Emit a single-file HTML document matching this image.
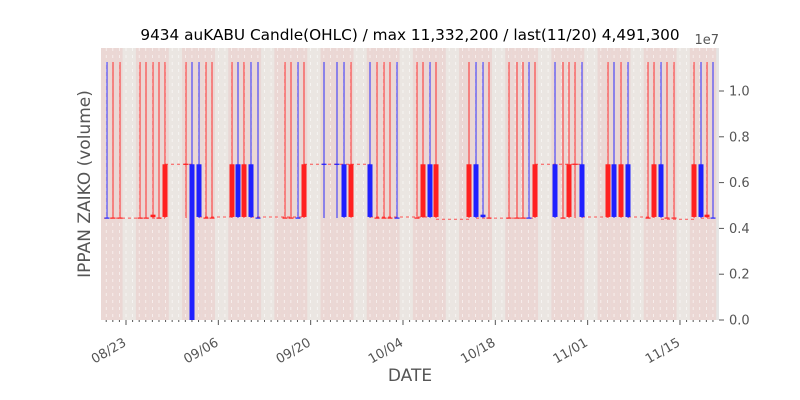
<!DOCTYPE html>
<html><head><meta charset="utf-8"><style>
html,body{margin:0;padding:0;background:#fff;}
svg{display:block;font-family:"DejaVu Sans","Liberation Sans",sans-serif;}
</style></head><body>
<svg id="s" width="800" height="400" xmlns="http://www.w3.org/2000/svg">
<rect x="101" y="48" width="618" height="272" fill="#e5e5e5"/>
<g id="bands"></g><g id="grid"></g><g id="dash"></g><g id="cand"></g><g id="ticks"></g>
<text x="410" y="40" font-size="15.3" text-anchor="middle" fill="#000">9434 auKABU Candle(OHLC) / max 11,332,200 / last(11/20) 4,491,300</text>
<text x="719" y="44" font-size="13" text-anchor="end" fill="#555">1e7</text>
<text x="410" y="381" font-size="17" text-anchor="middle" fill="#555">DATE</text>
<text transform="translate(90,184) rotate(-90)" font-size="17" text-anchor="middle" fill="#555">IPPAN ZAIKO (volume)</text>
</svg>
<script>
var NS="http://www.w3.org/2000/svg";
function el(p,t,a){var e=document.createElementNS(NS,t);for(var k in a)e.setAttribute(k,a[k]);document.getElementById(p).appendChild(e);return e;}
var x0=126,pd=6.595;
function X(d){return x0+d*pd;}
function Y(v){return 320-v*22.9;}
for(var d=-4;d<=89;d++){
  var dow=((d%7)+7)%7;
  var we=(dow==0||dow==1);
  var xa=Math.max(101,X(d)-pd/2), xb=Math.min(719,X(d)+pd/2);
  el("bands","rect",{x:xa,y:48,width:xb-xa,height:272,fill:we?"#ebe6e2":"#ebd7d4"});
  if(X(d)>101&&X(d)<719)el("grid","line",{x1:X(d),x2:X(d),y1:48,y2:320,stroke:"#fff","stroke-width":0.7,"stroke-dasharray":"3,4",opacity:0.8});
}
var C=[[107,"b","t"],[113,"r","t"],[120,"r","t"],[140,"r","t"],[146,"r","t"],[153,"r","s"],[159,"r","t"],[165,"r","b"],
[186,"r","h"],[192,"b","B"],[199,"b","b"],[206,"r","t"],[212,"r","t"],[232,"r","b"],[238,"b","b"],[244,"r","b"],[251,"b","b"],[258,"b","t"],
[285,"r","t"],[291,"r","t"],[298,"b","t"],[304,"r","b"],[324,"b","h"],[337,"b","h"],[344,"b","b"],[351,"r","b"],[370,"b","b"],
[377,"r","t"],[384,"r","t"],[390,"r","t"],[397,"b","t"],[417,"r","t"],[423,"r","b"],[430,"b","b"],[436,"r","b"],
[469,"r","b"],[476,"b","b"],[483,"b","s"],[489,"r","t"],[509,"r","t"],[517,"r","t"],[523,"r","t"],[529,"b","t"],[535,"r","b"],
[555,"b","b"],[563,"r","t"],[569,"r","b"],[575,"r","h"],[582,"b","b"],[608,"r","b"],[614,"b","b"],[621,"r","b"],[628,"b","b"],
[648,"r","t"],[654,"r","b"],[661,"b","b"],[667,"r","t"],[674,"r","t"],[694,"r","b"],[701,"b","b"],[707,"r","s"],[713,"b","t"]];
var segs=[[104,165,Y(4.45)],[165,192,Y(6.8)],[199,232,Y(4.5)],[251,304,Y(4.5)],[304,351,Y(6.8)],[351,370,Y(6.8)],[370,430,Y(4.5)],[436,469,Y(4.4)],[476,535,Y(4.45)],[535,582,Y(6.8)],[582,608,Y(4.5)],[628,654,Y(4.5)],[661,694,Y(4.4)],[701,713,Y(4.45)]];
segs.forEach(function(s){el("dash","line",{x1:s[0],x2:s[1],y1:s[2],y2:s[2],stroke:"#ff3030","stroke-width":1,"stroke-dasharray":"3,3",opacity:0.8});});
C.forEach(function(c){
  var col=c[1]=="r"?"#ff2020":"#2020ff";
  el("cand","line",{x1:c[0],x2:c[0],y1:62,y2:Y(4.45),stroke:col,"stroke-width":1.1,opacity:0.85});
  var t=c[2];
  if(t=="b")el("cand","rect",{x:c[0]-2.5,y:Y(6.8),width:5,height:Y(4.5)-Y(6.8),fill:col});
  else if(t=="B")el("cand","rect",{x:c[0]-2.5,y:Y(6.8),width:5,height:320-Y(6.8),fill:col});
  else if(t=="s")el("cand","rect",{x:c[0]-2.5,y:Y(4.6),width:5,height:2.5,fill:col});
  else if(t=="h")el("cand","line",{x1:c[0]-2.5,x2:c[0]+2.5,y1:Y(6.8),y2:Y(6.8),stroke:col,"stroke-width":1.2});
  else el("cand","line",{x1:c[0]-2.5,x2:c[0]+2.5,y1:Y(4.45),y2:Y(4.45),stroke:col,"stroke-width":1.2});
});
for(var d=-3;d<=89;d++){var x=X(d);el("ticks","line",{x1:x,x2:x,y1:320,y2:(d%14==0)?325:322,stroke:"#555","stroke-width":1});}
var labs=["08/23","09/06","09/20","10/04","10/18","11/01","11/15"];
labs.forEach(function(l,i){var x=X(i*14);var t=el("ticks","text",{transform:"translate("+(x+1)+",345) rotate(-30)","font-size":13,"text-anchor":"end",fill:"#555"});t.textContent=l;});
[0,0.2,0.4,0.6,0.8,1.0].forEach(function(v){var y=320-v*229;el("ticks","line",{x1:719,x2:724,y1:y,y2:y,stroke:"#555"});var t=el("ticks","text",{x:729,y:y+4.5,"font-size":13,fill:"#555"});t.textContent=v.toFixed(1);});
</script>
</body></html>
